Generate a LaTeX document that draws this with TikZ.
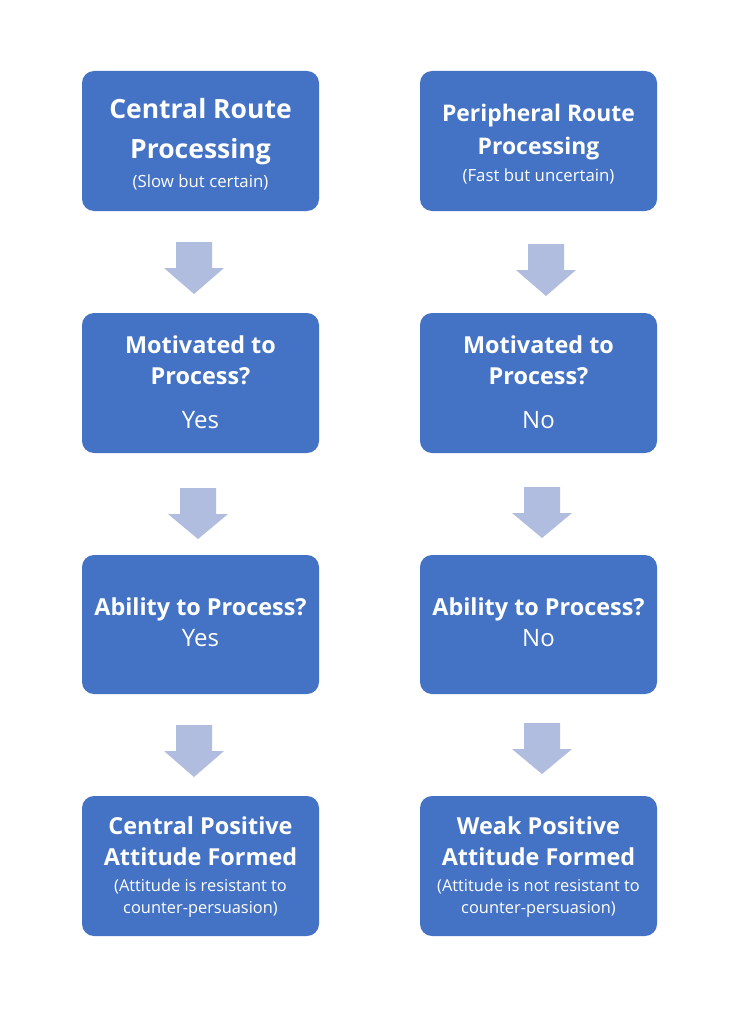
\documentclass[tikz,border=0pt]{standalone}
\usepackage{fontspec}
\setmainfont{Open Sans}
\definecolor{boxblue}{HTML}{4472C4}
\definecolor{arrowblue}{HTML}{B1BDDF}
\newcommand{\bkarrow}[3]{%
  \fill[arrowblue] (#1-18,#2) -- (#1+18,#2) -- (#1+18,#2+26) -- (#1+30,#2+26)
    -- (#1,#3) -- (#1-30,#2+26) -- (#1-18,#2+26) -- cycle;}
\begin{document}
\begin{tikzpicture}[x=1pt,y=-1pt,
  box/.style={fill=boxblue,rounded corners=12pt,draw=none},
  ttl/.style={text=white,anchor=base,inner sep=0pt,font=\bfseries\fontsize{23.4}{23.4}\selectfont},
  ttlr/.style={text=white,anchor=base,inner sep=0pt,font=\bfseries\fontsize{22.9}{22.9}\selectfont},
  big/.style={text=white,anchor=base,inner sep=0pt,font=\bfseries\fontsize{26.5}{26.5}\selectfont},
  ans/.style={text=white,anchor=base,inner sep=0pt,font=\fontsize{24}{24}\selectfont},
  sub/.style={text=white,anchor=base,inner sep=0pt,font=\fontsize{16.8}{16.8}\selectfont},
  sub2/.style={text=white,anchor=base,inner sep=0pt,font=\fontsize{16.4}{16.4}\selectfont}]
\useasboundingbox (0,0) rectangle (742,1019);
\fill[white] (0,0) rectangle (742,1019);
% boxes
\path[box] (82,71) rectangle (319,211); \coordinate (b1) at (200.5,141);
\path[box] (420,71) rectangle (657,211); \coordinate (c1) at (538.5,141);
\path[box] (82,313) rectangle (319,453); \coordinate (b2) at (200.5,383);
\path[box] (420,313) rectangle (657,453); \coordinate (c2) at (538.5,383);
\path[box] (82,555) rectangle (319,694); \coordinate (b3) at (200.5,624);
\path[box] (420,555) rectangle (657,694); \coordinate (c3) at (538.5,624);
\path[box] (82,796) rectangle (319,936); \coordinate (b4) at (200.5,866);
\path[box] (420,796) rectangle (657,936); \coordinate (c4) at (538.5,866);
% row 1
\node[big] (l1a) at (200.5,119) {Central Route};
\node[big] (l1b) at (200.5,159) {Processing};
\node[sub] (l1c) at (200.5,187) {(Slow but certain)};
\node[ttlr] (r1a) at (538.5,122) {Peripheral Route};
\node[ttlr] (r1b) at (538.5,155) {Processing};
\node[sub] (r1c) at (538.5,182) {(Fast but uncertain)};
% row 2
\node[ttl] (l2a) at (200.5,353) {Motivated to};
\node[ttl] (l2b) at (200.5,384) {Process?};
\node[ans] (l2c) at (200.5,428) {Yes};
\node[ttl] (r2a) at (538.5,353) {Motivated to};
\node[ttl] (r2b) at (538.5,384) {Process?};
\node[ans] (r2c) at (538.5,428) {No};
% row 3
\node[ttl] (l3a) at (200.5,615) {Ability to Process?};
\node[ans] (l3b) at (200.5,646) {Yes};
\node[ttl] (r3a) at (538.5,615) {Ability to Process?};
\node[ans] (r3b) at (538.5,646) {No};
% row 4
\node[ttl] (l4a) at (200.5,834) {Central Positive};
\node[ttl] (l4b) at (200.5,865) {Attitude Formed};
\node[sub2] (l4c) at (200.5,891) {(Attitude is resistant to};
\node[sub2] (l4d) at (200.5,913) {counter-persuasion)};
\node[ttl] (r4a) at (538.5,834) {Weak Positive};
\node[ttl] (r4b) at (538.5,865) {Attitude Formed};
\node[sub2] (r4c) at (538.5,891) {(Attitude is not resistant to};
\node[sub2] (r4d) at (538.5,913) {counter-persuasion)};
% arrows
\bkarrow{194}{242}{294}
\bkarrow{546}{244}{296}
\bkarrow{198}{488}{539}
\bkarrow{542}{487}{538}
\bkarrow{194}{725}{777}
\bkarrow{542}{723}{774}
\end{tikzpicture}
\end{document}
